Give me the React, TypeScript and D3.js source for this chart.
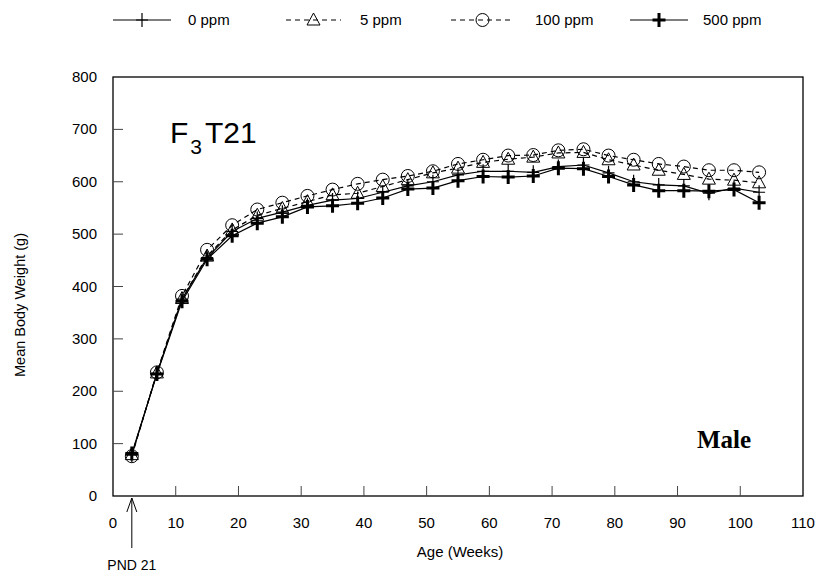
import React from "react";
import * as d3 from "d3";

const weeks = [3, 7, 11, 15, 19, 23, 27, 31, 35, 39, 43, 47, 51, 55, 59, 63, 67, 71, 75, 79, 83, 87, 91, 95, 99, 103];
const ppm0 = [78, 234, 376, 455, 505, 530, 542, 555, 565, 568, 580, 592, 600, 613, 620, 620, 618, 629, 632, 617, 600, 594, 592, 578, 588, 580];
const ppm5 = [79, 235, 377, 458, 508, 536, 549, 562, 575, 578, 591, 604, 617, 626, 637, 643, 647, 655, 656, 642, 632, 622, 614, 605, 603, 598];
const ppm100 = [76, 236, 382, 470, 517, 547, 560, 573, 585, 596, 604, 611, 620, 634, 642, 650, 651, 660, 662, 650, 642, 634, 629, 622, 622, 618];
const ppm500 = [81, 233, 372, 452, 497, 521, 533, 552, 554, 559, 569, 586, 588, 602, 610, 609, 611, 626, 625, 610, 594, 583, 583, 582, 585, 560];
const xTicks = [0, 10, 20, 30, 40, 50, 60, 70, 80, 90, 100, 110];
const yTicks = [0, 100, 200, 300, 400, 500, 600, 700, 800];

type Series = { name: string; values: number[]; dash: string; marker: string };
const series: Series[] = [
  { name: "0 ppm", values: ppm0, dash: "", marker: "plus" },
  { name: "5 ppm", values: ppm5, dash: "5,4", marker: "tri" },
  { name: "100 ppm", values: ppm100, dash: "5,4", marker: "circle" },
  { name: "500 ppm", values: ppm500, dash: "", marker: "bold" },
];

const left = 113, right = 803, top = 77, bottom = 496;
const x = d3.scaleLinear().domain([0, 110]).range([left, right]);
const y = d3.scaleLinear().domain([0, 800]).range([bottom, top]);

function Marker({ kind, cx, cy }: { kind: string; cx: number; cy: number }) {
  if (kind === "plus")
    return <path d={`M${cx - 6},${cy}H${cx + 6}M${cx},${cy - 7}V${cy + 7}`} stroke="#000" strokeWidth={1.2} fill="none" />;
  if (kind === "bold")
    return <path d={`M${cx - 6.5},${cy}H${cx + 6.5}M${cx},${cy - 7}V${cy + 7}`} stroke="#000" strokeWidth={3} fill="none" />;
  if (kind === "tri")
    return <path d={`M${cx},${cy - 7}L${cx + 6.5},${cy + 5}L${cx - 6.5},${cy + 5}Z`} stroke="#000" strokeWidth={1} fill="none" />;
  return <circle cx={cx} cy={cy} r={6.5} stroke="#000" strokeWidth={1} fill="none" />;
}

export default function App() {
  const line = d3.line<number>().x((_, i) => x(weeks[i])).y((v) => y(v));
  const font = "Liberation Sans, Arial, sans-serif";
  const legendX = [113, 286, 451, 630];
  const legendW = [58, 55, 63, 58];
  const legendTextX = [188, 360, 535, 703];
  return (
    <svg width={822} height={575} style={{ position: "absolute", left: 0, top: 0 }} fontFamily={font}>
      <rect x={0} y={0} width={822} height={575} fill="#fff" />
      {series.map((s, i) => (
        <g key={s.name}>
          <line x1={legendX[i]} x2={legendX[i] + legendW[i]} y1={20} y2={20} stroke="#000" strokeWidth={1.2} strokeDasharray={s.dash || undefined} />
          <Marker kind={s.marker} cx={legendX[i] + legendW[i] / 2} cy={20} />
          <text x={legendTextX[i]} y={25} fontSize={15}>{s.name}</text>
        </g>
      ))}
      <rect x={left} y={top} width={right - left} height={bottom - top} fill="none" stroke="#000" strokeWidth={1.3} />
      {xTicks.map((t) => (
        <g key={"x" + t}>
          {t > 0 && t < 110 && <line x1={x(t)} x2={x(t)} y1={bottom} y2={bottom - 10} stroke="#444" />}
          <text x={x(t)} y={528} fontSize={15} textAnchor="middle">{t}</text>
        </g>
      ))}
      {yTicks.map((t) => (
        <g key={"y" + t}>
          {t > 0 && t < 800 && <line x1={left} x2={left + 10} y1={y(t)} y2={y(t)} stroke="#444" />}
          <text x={97} y={y(t) + 5} fontSize={15} textAnchor="end">{t}</text>
        </g>
      ))}
      {series.map((s) => (
        <g key={s.name}>
          <path d={line(s.values) || ""} fill="none" stroke="#000" strokeWidth={1.2} strokeDasharray={s.dash || undefined} />
          {s.values.map((v, i) => (
            <Marker key={i} kind={s.marker} cx={x(weeks[i])} cy={y(v)} />
          ))}
        </g>
      ))}
      <text x={170} y={143} fontSize={30}>
        F<tspan fontSize={21} dx={2} dy={11}>3</tspan><tspan dx={3} dy={-11}>T21</tspan>
      </text>
      <text x={697} y={448} fontSize={25} fontWeight="bold" fontFamily="Liberation Serif, Times New Roman, serif">Male</text>
      <text x={460} y={557} fontSize={15} textAnchor="middle">Age (Weeks)</text>
      <text transform="translate(25,305) rotate(-90)" fontSize={14.5} textAnchor="middle">Mean Body Weight (g)</text>
      <line x1={x(3)} x2={x(3)} y1={498} y2={548} stroke="#000" strokeWidth={1} />
      <path d={`M${x(3) - 5},${512}L${x(3)},${498}L${x(3) + 5},${512}`} fill="none" stroke="#000" strokeWidth={1} />
      <text x={x(3)} y={570} fontSize={14} textAnchor="middle">PND 21</text>
    </svg>
  );
}
